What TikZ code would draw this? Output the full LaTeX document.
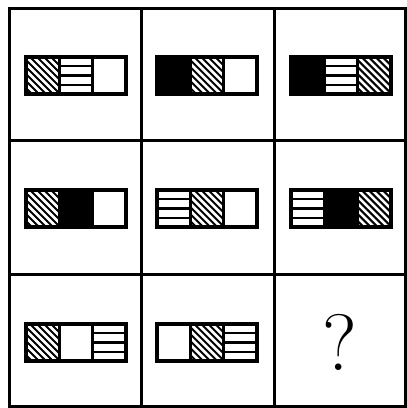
\documentclass[tikz,border=0pt]{standalone}
\usepackage{tikz}

\begin{document}
\begin{tikzpicture}[x=1pt, y=-1pt,
  gridline/.style={line width=3pt},
  frame/.style={line width=3.2pt},
  hatchsq/.pic={\clip (0,0) rectangle (33.3,37);
    \foreach \k in {-38,-31,...,34} \draw[line width=2pt] (\k,0) -- ++(37,37);},
  stripesq/.pic={\foreach \k in {9.25,18.5,27.75} \draw[line width=2.4pt] (0,\k) -- (33.3,\k);},
  blacksq/.pic={\fill (0,0) rectangle (33.3,37);},
  whitesq/.pic={}]
\useasboundingbox (0,0) rectangle (407,408);
% panels: left/top corner, then the three squares left to right
\foreach \x/\y/\a/\b/\c in {26/57/hatchsq/stripesq/whitesq, 157/57/blacksq/hatchsq/whitesq,
  291/57/blacksq/stripesq/hatchsq, 26/190/hatchsq/blacksq/whitesq,
  157/190/stripesq/hatchsq/whitesq, 291/190/stripesq/blacksq/hatchsq,
  26/324/hatchsq/whitesq/stripesq, 157/324/whitesq/hatchsq/stripesq} {
  \pic at (\x,\y) {\a};
  \pic at (\x+33.3,\y) {\b};
  \pic at (\x+66.6,\y) {\c};
  \draw[frame] (\x,\y) rectangle ++(100,37);
  \draw[frame] (\x+33.3,\y) -- ++(0,37) (\x+66.6,\y) -- ++(0,37);
}
% missing panel
\node (qmark) at (339.5,342) {\fontsize{80}{80}\selectfont ?};
% grid
\draw[gridline] (9,8) rectangle (405,406);
\draw[gridline] (141,8) -- (141,406) (274,8) -- (274,406)
  (9,140) -- (405,140) (9,274) -- (405,274);
\end{tikzpicture}
\end{document}
